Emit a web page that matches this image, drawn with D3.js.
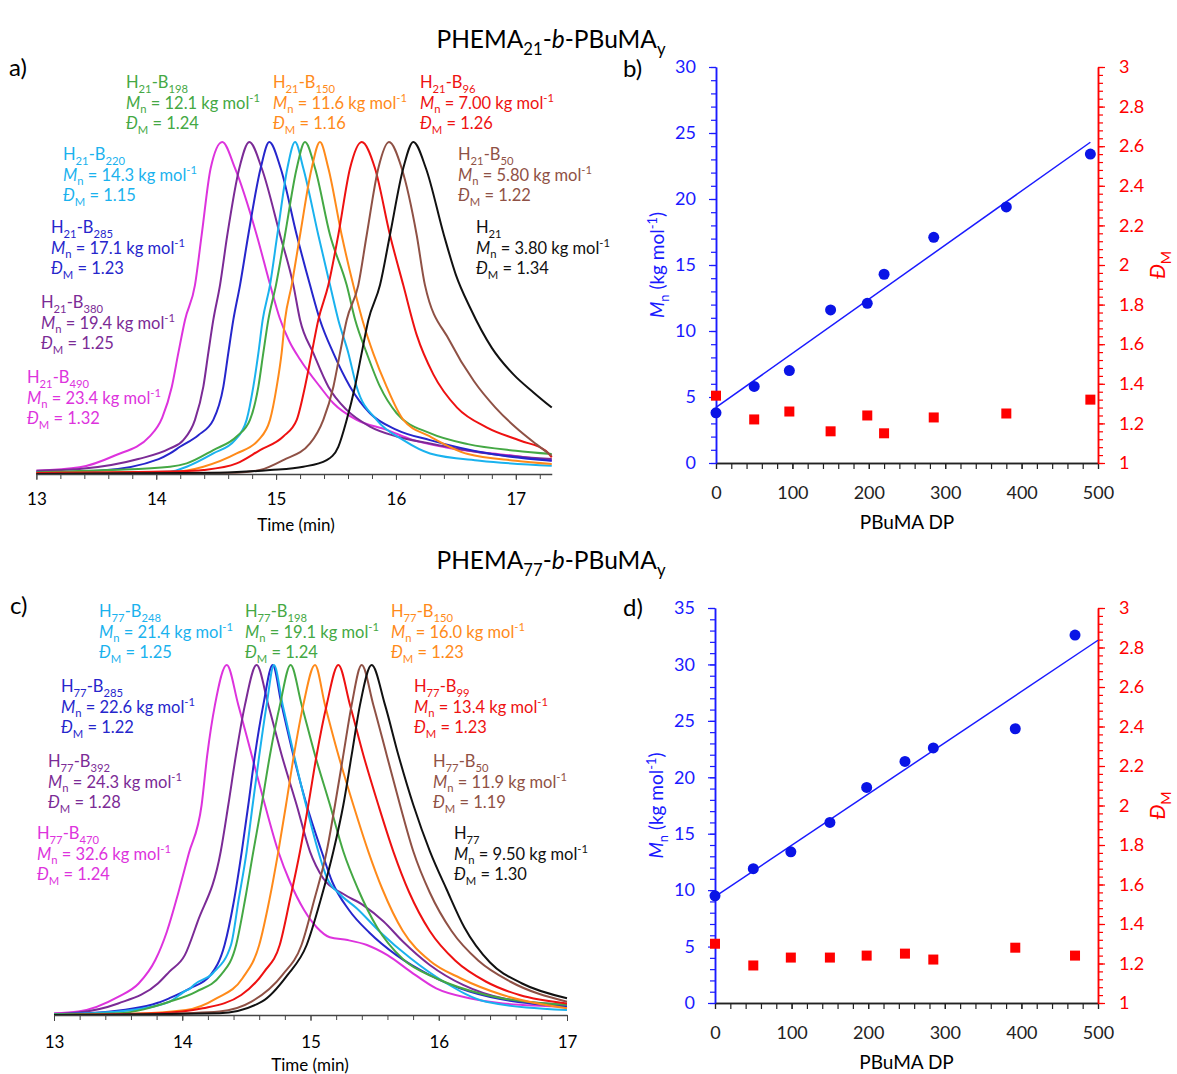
<!DOCTYPE html>
<html>
<head>
<meta charset="utf-8">
<script src="https://cdn.jsdelivr.net/npm/d3@7"></script>
<style>
  body { margin: 0; background: #fff; }
  svg  { font-family: Lato, "Open Sans", sans-serif; }
</style>
</head>
<body>
<svg id="chart" width="1177" height="1074"></svg>
<script>
// Step 1: data
// =================================
// GPC traces, panel a (PHEMA21 series): [time (min), normalised RI]
var a490 = [[13.0,0.01],[13.36,0.02],[13.65,0.055],[13.95,0.115],[14.05,0.17],[14.13,0.263],[14.184,0.364],[14.24,0.464],[14.323,0.569],[14.379,0.72],[14.454,0.921],[14.551,1.0],[14.657,0.921],[14.838,0.72],[14.95,0.57],[15.03,0.47],[15.11,0.4],[15.2,0.345],[15.366,0.263],[15.478,0.213],[15.672,0.163],[15.922,0.133],[16.145,0.102],[16.42,0.08],[16.98,0.055],[17.3,0.04]];
var a380 = [[13.0,0.01],[13.36,0.015],[13.85,0.045],[14.115,0.077],[14.226,0.102],[14.323,0.163],[14.393,0.263],[14.434,0.364],[14.476,0.464],[14.532,0.569],[14.593,0.72],[14.693,0.921],[14.777,1.0],[14.88,0.921],[15.033,0.72],[15.144,0.569],[15.2,0.464],[15.311,0.364],[15.436,0.263],[15.589,0.193],[15.783,0.143],[16.006,0.113],[16.284,0.092],[16.8,0.06],[17.3,0.045]];
var a285 = [[13.0,0.005],[13.52,0.01],[14.02,0.045],[14.115,0.062],[14.198,0.082],[14.351,0.117],[14.476,0.163],[14.56,0.263],[14.601,0.364],[14.643,0.464],[14.699,0.569],[14.768,0.72],[14.871,0.921],[14.943,1.0],[15.038,0.921],[15.172,0.72],[15.283,0.569],[15.366,0.464],[15.478,0.364],[15.617,0.263],[15.783,0.183],[16.006,0.133],[16.284,0.102],[16.8,0.06],[17.3,0.04]];
var a220 = [[13.0,0.003],[14.115,0.007],[14.254,0.022],[14.476,0.062],[14.657,0.102],[14.754,0.163],[14.81,0.263],[14.852,0.364],[14.888,0.464],[14.949,0.569],[15.01,0.72],[15.094,0.921],[15.158,1.0],[15.227,0.921],[15.352,0.72],[15.45,0.569],[15.519,0.464],[15.603,0.364],[15.672,0.263],[15.839,0.163],[16.062,0.102],[16.284,0.062],[16.7,0.04],[17.3,0.025]];
var a198 = [[13.0,0.005],[13.6,0.012],[14.115,0.022],[14.254,0.032],[14.476,0.072],[14.671,0.113],[14.782,0.163],[14.852,0.263],[14.893,0.364],[14.935,0.464],[14.999,0.569],[15.074,0.72],[15.172,0.921],[15.241,1.0],[15.325,0.921],[15.45,0.72],[15.589,0.569],[15.66,0.464],[15.756,0.364],[15.867,0.263],[16.006,0.183],[16.284,0.123],[16.6,0.09],[17.0,0.07],[17.3,0.06]];
var a150 = [[13.0,0.003],[14.17,0.007],[14.393,0.022],[14.671,0.062],[14.852,0.102],[14.949,0.163],[15.005,0.263],[15.046,0.364],[15.074,0.464],[15.13,0.569],[15.2,0.72],[15.297,0.921],[15.366,1.0],[15.436,0.921],[15.547,0.72],[15.644,0.569],[15.72,0.464],[15.81,0.364],[15.922,0.263],[16.062,0.163],[16.284,0.113],[16.6,0.06],[17.0,0.04],[17.3,0.03]];
var a96  = [[13.0,0.003],[14.2,0.008],[14.393,0.012],[14.671,0.032],[14.866,0.072],[15.06,0.113],[15.172,0.163],[15.241,0.263],[15.297,0.364],[15.352,0.464],[15.436,0.569],[15.519,0.72],[15.617,0.921],[15.714,1.0],[15.825,0.921],[15.95,0.72],[16.061,0.569],[16.173,0.419],[16.312,0.3],[16.51,0.2],[16.76,0.14],[17.04,0.1],[17.25,0.07],[17.3,0.05]];
var a50  = [[13.0,0.0],[14.67,0.004],[14.866,0.012],[15.06,0.042],[15.283,0.092],[15.394,0.163],[15.478,0.263],[15.533,0.364],[15.589,0.464],[15.686,0.569],[15.756,0.72],[15.853,0.921],[15.942,1.0],[16.048,0.921],[16.173,0.72],[16.242,0.569],[16.45,0.4],[16.65,0.28],[16.83,0.2],[17.0,0.14],[17.17,0.09],[17.3,0.055]];
var a0   = [[13.0,0.0],[14.53,0.004],[14.949,0.012],[15.227,0.022],[15.422,0.042],[15.519,0.082],[15.589,0.163],[15.658,0.263],[15.714,0.364],[15.77,0.464],[15.867,0.569],[15.95,0.72],[16.061,0.921],[16.145,1.0],[16.25,0.921],[16.4,0.72],[16.5,0.6],[16.62,0.5],[16.8,0.38],[16.98,0.3],[17.15,0.245],[17.3,0.2]];

// GPC traces, panel c (PHEMA77 series)
var c470 = [[13.0,0.005],[13.19,0.01],[13.5,0.052],[13.66,0.09],[13.79,0.157],[13.88,0.238],[13.97,0.35],[14.05,0.46],[14.151,0.6],[14.195,0.743],[14.255,0.886],[14.347,1.0],[14.437,0.886],[14.541,0.743],[14.645,0.6],[14.749,0.467],[14.84,0.38],[14.95,0.3],[15.05,0.25],[15.15,0.222],[15.29,0.214],[15.44,0.2],[15.6,0.171],[15.78,0.124],[15.98,0.076],[16.24,0.048],[16.5,0.033],[17.0,0.024]];
var c392 = [[13.0,0.003],[13.19,0.007],[13.5,0.033],[13.81,0.09],[13.9,0.124],[14.02,0.171],[14.12,0.267],[14.3,0.467],[14.359,0.6],[14.419,0.743],[14.489,0.886],[14.58,1.0],[14.671,0.886],[14.775,0.743],[14.892,0.6],[14.996,0.467],[15.1,0.39],[15.26,0.345],[15.41,0.314],[15.57,0.267],[15.72,0.21],[15.93,0.143],[16.19,0.086],[16.5,0.048],[17.0,0.029]];
var c285 = [[13.0,0.002],[13.35,0.007],[13.81,0.035],[13.9,0.048],[14.06,0.076],[14.22,0.114],[14.33,0.2],[14.4,0.32],[14.464,0.467],[14.515,0.6],[14.567,0.743],[14.632,0.886],[14.705,1.0],[14.775,0.886],[14.866,0.743],[14.97,0.6],[15.087,0.467],[15.17,0.38],[15.3,0.3],[15.46,0.235],[15.67,0.171],[15.93,0.114],[16.24,0.067],[17.0,0.024]];
var c248 = [[13.0,0.002],[13.5,0.01],[13.9,0.038],[14.03,0.07],[14.06,0.075],[14.09,0.086],[14.24,0.12],[14.38,0.2],[14.44,0.33],[14.502,0.467],[14.549,0.6],[14.601,0.743],[14.658,0.886],[14.715,1.0],[14.783,0.886],[14.871,0.743],[14.965,0.6],[15.061,0.467],[15.13,0.39],[15.23,0.345],[15.36,0.305],[15.54,0.238],[15.78,0.162],[16.04,0.095],[16.37,0.038],[17.0,0.014]];
var c198 = [[13.0,0.002],[13.5,0.005],[13.9,0.038],[14.11,0.067],[14.3,0.114],[14.42,0.2],[14.49,0.33],[14.554,0.467],[14.619,0.6],[14.684,0.743],[14.762,0.886],[14.845,1.0],[14.931,0.886],[15.035,0.743],[15.152,0.6],[15.256,0.467],[15.37,0.36],[15.52,0.25],[15.72,0.16],[15.98,0.105],[16.37,0.057],[17.0,0.029]];
var c150 = [[13.0,0.0],[13.5,0.002],[14.03,0.014],[14.27,0.048],[14.47,0.105],[14.6,0.2],[14.68,0.33],[14.749,0.467],[14.809,0.6],[14.871,0.743],[14.944,0.886],[15.035,1.0],[15.113,0.886],[15.217,0.743],[15.334,0.6],[15.451,0.467],[15.56,0.36],[15.72,0.24],[15.93,0.155],[16.17,0.105],[16.5,0.057],[17.0,0.019]];
var c99  = [[13.0,0.0],[13.81,0.005],[14.16,0.019],[14.46,0.057],[14.64,0.124],[14.76,0.2],[14.84,0.33],[14.918,0.467],[14.983,0.6],[15.048,0.743],[15.126,0.886],[15.217,1.0],[15.308,0.886],[15.412,0.743],[15.529,0.6],[15.646,0.467],[15.77,0.35],[15.93,0.24],[16.13,0.155],[16.37,0.095],[16.63,0.057],[17.0,0.033]];
var c50  = [[13.0,0.0],[13.81,0.003],[14.29,0.01],[14.54,0.038],[14.78,0.114],[14.93,0.2],[15.03,0.33],[15.126,0.467],[15.191,0.6],[15.256,0.743],[15.321,0.886],[15.399,1.0],[15.49,0.886],[15.594,0.743],[15.698,0.6],[15.802,0.467],[15.93,0.35],[16.1,0.24],[16.31,0.155],[16.56,0.095],[17.0,0.038]];
var c0   = [[13.0,0.0],[14.29,0.005],[14.62,0.038],[14.82,0.114],[14.97,0.2],[15.08,0.33],[15.178,0.467],[15.256,0.6],[15.321,0.743],[15.386,0.886],[15.477,1.0],[15.581,0.886],[15.685,0.743],[15.802,0.6],[15.932,0.467],[16.06,0.36],[16.2,0.25],[16.4,0.15],[16.65,0.09],[17.0,0.048]];

// Label text for each trace (same order as traces)
var blockA  = ["490", "380", "285", "220", "198", "150", "96", "50", null];
var mnTextA = ["23.4", "19.4", "17.1", "14.3", "12.1", "11.6", "7.00", "5.80", "3.80"];
var dTextA  = ["1.32", "1.25", "1.23", "1.15", "1.24", "1.16", "1.26", "1.22", "1.34"];
var blockC  = ["470", "392", "285", "248", "198", "150", "99", "50", null];
var mnTextC = ["32.6", "24.3", "22.6", "21.4", "19.1", "16.0", "13.4", "11.9", "9.50"];
var dTextC  = ["1.24", "1.28", "1.22", "1.25", "1.24", "1.23", "1.23", "1.19", "1.30"];

// Mn and dispersity against PBuMA DP
var dpB   = [0, 50, 96, 150, 198, 220, 285, 380, 490];
var mnB   = [3.8, 5.8, 7.0, 11.6, 12.1, 14.3, 17.1, 19.4, 23.4];
var dispB = [1.34, 1.22, 1.26, 1.16, 1.24, 1.15, 1.23, 1.25, 1.32];
var dpD   = [0, 50, 99, 150, 198, 248, 285, 392, 470];
var mnD   = [9.5, 11.9, 13.4, 16.0, 19.1, 21.4, 22.6, 24.3, 32.6];
var dispD = [1.30, 1.19, 1.23, 1.23, 1.24, 1.25, 1.22, 1.28, 1.24];

// Step 2: styles and layout
// =================================
var colors = ["#dd33dd", "#7b2b96", "#2626cc", "#1ab2ee", "#44a844", "#ff8a1a", "#ee1111", "#8f5145", "#111111"];
var blue = "#1a1aff", red = "#ff0000";

var posA = [[27,383],[41,308],[51,233],[63,160],[126,88],[273,88],[420,88],[458,160],[476,233]];
var posC = [[37,839],[48,767],[61,692],[99,617],[245,617],[391,617],[414,692],[433,767],[454,839]];

var svg = d3.select("#chart");

// text with sub/superscripts and italics
function rich(text, parts, fs) {
  var off = 0;
  parts.forEach(function(p) {
    var target = p.sub ? 0.28 * fs : (p.sup ? -0.38 * fs : 0);
    var ts = text.append("tspan").text(p.t).attr("dy", target - off);
    off = target;
    if (p.sub || p.sup) ts.attr("font-size", 0.68 * fs);
    if (p.it) ts.attr("font-style", "italic");
  });
  return text;
}

function addText(g, x, y, fs, color, parts, anchor) {
  var t = g.append("text")
    .attr("x", x).attr("y", y)
    .attr("font-size", fs)
    .attr("fill", color)
    .attr("text-anchor", anchor || "start");
  return rich(t, parts, fs);
}

// Step 3: titles and panel letters
// =================================
addText(svg, 551, 48, 24.5, "#000",
  [{t:"PHEMA"},{t:"21",sub:1},{t:"-"},{t:"b",it:1},{t:"-PBuMA"},{t:"y",sub:1}], "middle");
addText(svg, 551, 569, 24.5, "#000",
  [{t:"PHEMA"},{t:"77",sub:1},{t:"-"},{t:"b",it:1},{t:"-PBuMA"},{t:"y",sub:1}], "middle");
[["a)", 9, 76], ["b)", 623, 77], ["c)", 10, 614], ["d)", 623, 616]].forEach(function(l) {
  svg.append("text").attr("x", l[1]).attr("y", l[2]).attr("font-size", 24).text(l[0]);
});

// Step 4: GPC panels
// =================================
function drawGpc(cfg) {
  var g = svg.append("g");
  var x = d3.scaleLinear().domain([13, cfg.tEnd]).range([cfg.x0, cfg.x0 + (cfg.tEnd - 13) * cfg.pxPerMin]);
  var y = d3.scaleLinear().domain([0, 1]).range([cfg.base, cfg.top]);

  var line = d3.line()
    .x(function(d) { return x(d[0]); })
    .y(function(d) { return y(d[1]); })
    .curve(d3.curveMonotoneX);

  g.append("g").selectAll("path")
    .data(cfg.traces)
  .enter().append("path")
    .attr("d", line)
    .attr("fill", "none")
    .attr("stroke", function(d, i) { return colors[i]; })
    .attr("stroke-width", 2);

  // minor ticks then major ticks with labels
  var minor = d3.range(13, cfg.tEnd + 0.001, 0.2);
  g.append("g")
    .attr("transform", "translate(0," + cfg.base + ")")
    .call(d3.axisBottom(x).tickValues(minor).tickSize(5).tickSizeOuter(0).tickFormat(""))
    .call(function(s) { s.select(".domain").remove(); })
    .selectAll("line").attr("stroke", "#444");
  var major = g.append("g")
    .attr("transform", "translate(0," + cfg.base + ")")
    .call(d3.axisBottom(x).tickValues([13, 14, 15, 16, 17]).tickSize(6).tickSizeOuter(0)
      .tickPadding(cfg.pad).tickFormat(d3.format("d")));
  major.select(".domain").attr("stroke", "#444").attr("stroke-width", 1.5);
  major.selectAll("line").attr("stroke", "#444");
  major.selectAll("text").attr("font-size", 17).attr("font-family", "Lato, sans-serif").attr("fill", "#000");

  g.append("text")
    .attr("x", cfg.titleX).attr("y", cfg.titleY)
    .attr("text-anchor", "middle").attr("font-size", 17)
    .text("Time (min)");

  // label blocks
  cfg.blocks.forEach(function(b, i) {
    var p = cfg.pos[i], fs = 16.5, gap = 20.5, c = colors[i];
    addText(g, p[0], p[1], fs, c,
      b ? [{t:"H"},{t:cfg.h,sub:1},{t:"-B"},{t:b,sub:1}] : [{t:"H"},{t:cfg.h,sub:1}]);
    addText(g, p[0], p[1] + gap, fs, c,
      [{t:"M",it:1},{t:"n",sub:1},{t:" = " + cfg.mn[i] + " kg mol"},{t:"-1",sup:1}]);
    addText(g, p[0], p[1] + 2 * gap, fs, c,
      [{t:"\u0110",it:1},{t:"M",sub:1},{t:" = " + cfg.d[i]}]);
  });
}

drawGpc({traces: [a490, a380, a285, a220, a198, a150, a96, a50, a0],
  x0: 36.4, pxPerMin: 119.85, tEnd: 17.3, base: 474, top: 142, pad: 13,
  titleX: 296, titleY: 531, blocks: blockA, mn: mnTextA, d: dTextA, pos: posA, h: "21"});
drawGpc({traces: [c470, c392, c285, c248, c198, c150, c99, c50, c0],
  x0: 54, pxPerMin: 128.25, tEnd: 17, base: 1015, top: 665, pad: 15,
  titleX: 310, titleY: 1071, blocks: blockC, mn: mnTextC, d: dTextC, pos: posC, h: "77"});

// Step 5: Mn / dispersity panels
// =================================
function fit(xs, ys) {
  var mx = d3.mean(xs), my = d3.mean(ys), sxy = 0, sxx = 0;
  xs.forEach(function(v, i) { sxy += (v - mx) * (ys[i] - my); sxx += (v - mx) * (v - mx); });
  var m = sxy / sxx;
  return {m: m, c: my - m * mx};
}

function drawDual(cfg) {
  var g = svg.append("g");
  var x  = d3.scaleLinear().domain([0, 500]).range([cfg.left, cfg.right]);
  var y1 = d3.scaleLinear().domain([0, cfg.mnMax]).range([cfg.bottom, cfg.top]);
  var y2 = d3.scaleLinear().domain([1, 3]).range([cfg.bottom, cfg.top]);

  function styleAxis(sel, color, fs) {
    sel.select(".domain").attr("stroke", color).attr("stroke-width", 1.5);
    sel.selectAll("line").attr("stroke", color).attr("stroke-width", 1.2);
    sel.selectAll("text").attr("fill", color).attr("font-size", fs).attr("font-family", "Lato, sans-serif");
  }

  // bottom axis
  g.append("g").attr("transform", "translate(0," + cfg.bottom + ")")
    .call(d3.axisBottom(x).tickValues(d3.range(0, 501, 20)).tickSize(6).tickSizeOuter(0).tickFormat(""))
    .call(styleAxis, "#222", 18);
  g.append("g").attr("transform", "translate(0," + cfg.bottom + ")")
    .call(d3.axisBottom(x).tickValues(d3.range(0, 501, 100)).tickSize(6).tickSizeOuter(0).tickPadding(17))
    .call(styleAxis, "#222", 18);

  // left axis (Mn)
  g.append("g").attr("transform", "translate(" + cfg.left + ",0)")
    .call(d3.axisLeft(y1).tickValues(d3.range(0, cfg.mnMax + 0.01, 1)).tickSize(5).tickSizeOuter(0).tickFormat(""))
    .call(styleAxis, blue, 18);
  g.append("g").attr("transform", "translate(" + cfg.left + ",0)")
    .call(d3.axisLeft(y1).tickValues(d3.range(0, cfg.mnMax + 0.01, 5)).tickSize(7).tickSizeOuter(0).tickPadding(13))
    .call(styleAxis, blue, 18);

  // right axis (dispersity)
  g.append("g").attr("transform", "translate(" + cfg.right + ",0)")
    .call(d3.axisRight(y2).tickValues(d3.range(1, 3.001, 0.04)).tickSize(5).tickSizeOuter(0).tickFormat(""))
    .call(styleAxis, red, 18);
  g.append("g").attr("transform", "translate(" + cfg.right + ",0)")
    .call(d3.axisRight(y2).tickValues(d3.range(1, 3.001, 0.2)).tickSize(7).tickSizeOuter(0).tickPadding(14)
      .tickFormat(function(d) { return String(+d.toFixed(1)); }))
    .call(styleAxis, red, 18);

  // linear fit of Mn vs DP
  var f = fit(cfg.dp, cfg.mn);
  g.append("line")
    .attr("x1", x(0)).attr("y1", y1(f.c))
    .attr("x2", x(cfg.fitEnd)).attr("y2", y1(f.c + f.m * cfg.fitEnd))
    .attr("stroke", blue).attr("stroke-width", 1.5);

  g.append("g").selectAll("circle")
    .data(cfg.dp)
  .enter().append("circle")
    .attr("cx", function(d) { return x(d); })
    .attr("cy", function(d, i) { return y1(cfg.mn[i]); })
    .attr("r", 5.5)
    .attr("fill", "#0a14e6");

  g.append("g").selectAll("rect")
    .data(cfg.dp)
  .enter().append("rect")
    .attr("x", function(d) { return x(d) - 5; })
    .attr("y", function(d, i) { return y2(cfg.disp[i]) - 5; })
    .attr("width", 10).attr("height", 10)
    .attr("fill", red);

  // axis titles
  var mid = (cfg.top + cfg.bottom) / 2;
  addText(g, 0, 0, 19, blue,
    [{t:"M",it:1},{t:"n",sub:1},{t:" (kg mol"},{t:"-1",sup:1},{t:")"}], "middle")
    .attr("transform", "translate(" + (cfg.left - 52) + "," + mid + ") rotate(-90)");
  addText(g, 0, 0, 21, red, [{t:"\u0110",it:1},{t:"M",sub:1}], "middle")
    .attr("transform", "translate(" + (cfg.right + 67) + "," + mid + ") rotate(-90)");
  g.append("text")
    .attr("x", (cfg.left + cfg.right) / 2).attr("y", cfg.bottom + 66)
    .attr("text-anchor", "middle").attr("font-size", 19)
    .text("PBuMA DP");
}

drawDual({left: 716, right: 1098, top: 67, bottom: 463, mnMax: 30,
  dp: dpB, mn: mnB, disp: dispB, fitEnd: 490});
drawDual({left: 715, right: 1098, top: 608, bottom: 1003, mnMax: 35,
  dp: dpD, mn: mnD, disp: dispD, fitEnd: 500});
</script>
</body>
</html>
